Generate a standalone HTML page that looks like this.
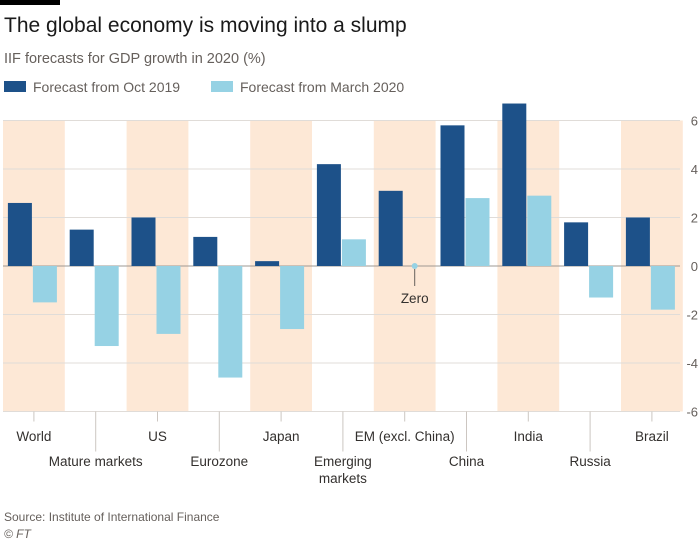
<!DOCTYPE html>
<html><head><meta charset="utf-8"><style>
body{margin:0;background:#fff;font-family:"Liberation Sans",sans-serif;}
svg text{font-family:"Liberation Sans",sans-serif;}
</style></head><body>
<svg width="700" height="550" xmlns="http://www.w3.org/2000/svg">
<rect x="0" y="0" width="60" height="5" fill="#000"/>
<text x="4" y="32" font-size="21" fill="#1a1a1a">The global economy is moving into a slump</text>
<text x="4" y="63" font-size="14.5" fill="#66605c">IIF forecasts for GDP growth in 2020 (%)</text>
<g>
<rect x="4" y="81" width="22" height="11" fill="#1d5189"/>
<text x="33" y="92" font-size="14" fill="#66605c">Forecast from Oct 2019</text>
<rect x="211" y="81" width="22" height="11" fill="#96d2e4"/>
<text x="240" y="92" font-size="14" fill="#66605c">Forecast from March 2020</text>
</g>
<g id="plot"></g>
<text x="4" y="521" font-size="12" fill="#66605c">Source: Institute of International Finance</text>
<text x="4" y="538" font-size="12" font-style="italic" fill="#66605c">© FT</text>
</svg>
<script>
const categories=["World","Mature markets","US","Eurozone","Japan","Emerging markets","EM (excl. China)","China","India","Russia","Brazil"];
const octValues=[2.6,1.5,2.0,1.2,0.2,4.2,3.1,5.8,6.7,1.8,2.0];
const marValues=[-1.5,-3.3,-2.8,-4.6,-2.6,1.1,0,2.8,2.9,-1.3,-1.8];
const yTicks=[6,4,2,0,-2,-4,-6];
const NS="http://www.w3.org/2000/svg";
const g=document.getElementById("plot");
const X0=3,BW=61.8,Y0=266,PU=24.25;
const xs=i=>X0+i*BW;
const ys=v=>Y0-v*PU;
function mk(t,a){const e=document.createElementNS(NS,t);for(const k in a)e.setAttribute(k,a[k]);g.appendChild(e);return e;}
categories.forEach((c,i)=>{if(i%2===0){const r=mk("rect",{x:xs(i),y:ys(6),width:BW,height:ys(-6)-ys(6),fill:"#fde8d6"});

}});
yTicks.forEach(t=>{const l=mk("line",{x1:X0,x2:680,y1:ys(t),y2:ys(t),stroke:t===0?"#9e9893":"#e0dcd8","stroke-width":1});


const tx=mk("text",{x:698,y:ys(t)+5,"font-size":13,fill:"#66605c","text-anchor":"end"});tx.textContent=String(t).replace("-","-");

});
categories.forEach((c,i)=>{
const cx=xs(i)+BW/2;
const ov=octValues[i],mv=marValues[i];
const b1=mk("rect",{x:cx-26,y:Math.min(ys(ov),Y0),width:24,height:Math.abs(ys(ov)-Y0),fill:"#1d5189"});


if(mv===0){const d=mk("circle",{cx:cx+10,cy:Y0,r:3,fill:"#96d2e4"});


const ln=mk("line",{x1:cx+10,x2:cx+10,y1:Y0+3,y2:Y0+20,stroke:"#66605c"});


const zt=mk("text",{x:cx+10,y:Y0+37,"font-size":13.5,fill:"#33302e","text-anchor":"middle"});zt.textContent="Zero";

}
else{const b2=mk("rect",{x:cx-1,y:Math.min(ys(mv),Y0),width:24,height:Math.abs(ys(mv)-Y0),fill:"#96d2e4"});

}
const odd=i%2===1;
const tk=mk("line",{x1:cx,x2:cx,y1:ys(-6),y2:ys(-6)+(odd?40:10),stroke:"#ccc6c1"});


const lines=c==="Emerging markets"?["Emerging","markets"]:[c];
lines.forEach((s,j)=>{const t=mk("text",{x:cx,y:(odd?466:441)+j*17,"font-size":13.5,fill:"#33302e","text-anchor":"middle"});t.textContent=s;

});
});
</script>
</body></html>
